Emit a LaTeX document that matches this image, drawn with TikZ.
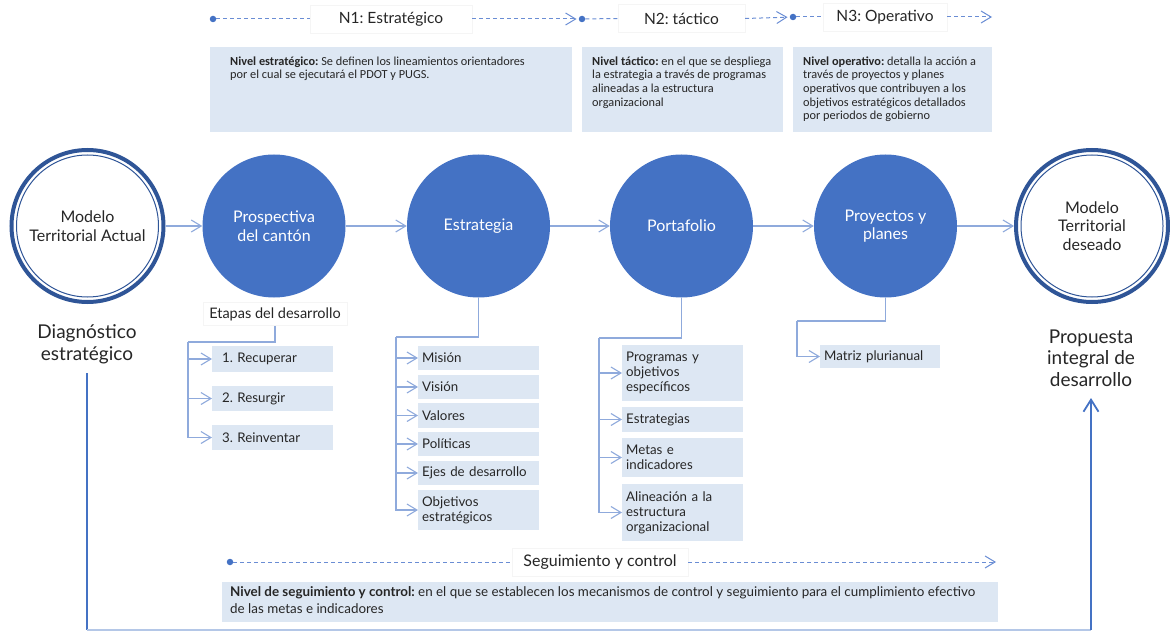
\documentclass[tikz,border=0pt]{standalone}
\usepackage{fontspec}
\setmainfont{Lato}
\newfontfamily\carl{Carlito}
\usetikzlibrary{arrows.meta}
\definecolor{cblue}{HTML}{4472C4}
\definecolor{ringblue}{HTML}{2F5597}
\definecolor{lineblue}{HTML}{8FAADC}
\definecolor{lightline}{HTML}{B4C7E7}
\definecolor{boxblue}{HTML}{DDE7F3}
\definecolor{dashblue}{HTML}{6A8DD4}
\definecolor{txt}{HTML}{262626}
\newcommand\fsz[2]{\fontsize{#1}{#2}\selectfont}
\begin{document}
\frenchspacing
\begin{tikzpicture}[x=1pt,y=-1pt,
  >={Straight Barb[length=10pt,width=12pt]},
  conn/.style={draw=lineblue, line width=1.1pt},
  dashln/.style={draw=dashblue, line width=1pt, dash pattern=on 4pt off 3pt},
  dotn/.style={circle, fill=cblue, inner sep=0pt, minimum size=6.5pt},
  lvl/.style={fill=white, draw=black!4, font=\fsz{15.5}{18}, text=txt, minimum height=28pt, inner sep=0pt},
  descbox/.style={fill=boxblue, inner sep=0pt, anchor=north west},
  desctext/.style={font=\carl\fsz{12.3}{13.6}, text=txt, align=left, anchor=north west, inner sep=0pt},
  bigc/.style={circle, fill=cblue, minimum size=143pt, inner sep=0pt, text=white, font=\fsz{16}{18.5}, align=center},
  ring/.style={circle, draw=ringblue, line width=4pt, minimum size=152pt, inner sep=0pt, font=\fsz{16}{18.5}, text=txt, align=center},
  sbox/.style={fill=boxblue, anchor=west, inner xsep=4pt, inner ysep=0pt, text width=113pt, align=left, font=\fsz{13.3}{15}, text=txt},
  sboxw/.style={sbox, inner xsep=10pt, text width=101pt},
  bigtxt/.style={font=\fsz{19}{22}, text=txt, align=center, inner sep=0pt},
  retv/.style={draw=cblue, line width=1.8pt},
  reth/.style={draw=lightline, line width=1.5pt}
]
\useasboundingbox (0,0) rectangle (1170,631);

% ---------- top level row ----------
\node[dotn] (dot1) at (213,19) {};
\node[lvl, minimum width=162pt] (n1) at (391,19) {N1: Estratégico};
\node[dotn] (dot2) at (582,19) {};
\node[lvl, minimum width=127pt] (n2) at (681.5,18.5) {N2: táctico};
\node[dotn] (dot3) at (793,17) {};
\node[lvl, minimum width=124pt] (n3) at (885,17) {N3: Operativo};
\coordinate (end3) at (992,17);
\draw[dashln] (dot1) -- (n1.west);
\draw[dashln,->,shorten >=2pt] (n1.east) -- (dot2);
\draw[dashln] (dot2) -- (n2.west);
\draw[dashln,->,shorten >=2pt] (n2.east) -- (dot3);
\draw[dashln] (dot3) -- (n3.west);
\draw[dashln,->] (n3.east) -- (end3);

% ---------- level descriptions ----------
\node[descbox, minimum width=362pt, minimum height=85pt] (d1) at (210,47) {};
\node[descbox, minimum width=201pt, minimum height=85pt] (d2) at (582,47) {};
\node[descbox, minimum width=199pt, minimum height=85pt] (d3) at (793,47) {};
\node[desctext] (t1) at (230,56.5) {\textbf{Nivel estratégico:} Se definen los lineamientos orientadores\\por el cual se ejecutará el PDOT y PUGS.};
\node[desctext] (t2) at (592,56.5) {\textbf{Nivel táctico:} en el que se despliega\\la estrategia a través de programas\\alineadas a la estructura\\organizacional};
\node[desctext] (t3) at (803,56.5) {\textbf{Nivel operativo:} detalla la acción a\\través de proyectos y planes\\operativos que contribuyen a los\\objetivos estratégicos detallados\\por periodos de gobierno};

% ---------- main circles ----------
\node[ring] (mta) at (87.5,226) {Modelo\\Territorial Actual};
\draw[ringblue, line width=1pt] (mta.center) circle[radius=71];
\node[bigc] (c1) at (274,226) {Prospectiva\\del cantón};
\node[bigc] (c2) at (478.5,226) {Estrategia};
\node[bigc] (c3) at (681.5,226) {Portafolio};
\node[bigc] (c4) at (885.5,226) {Proyectos y\\planes};
\node[ring] (mtd) at (1092,226) {Modelo\\Territorial\\deseado};
\draw[ringblue, line width=1pt] (mtd.center) circle[radius=71];

\draw[conn,->] (mta) -- (c1);
\draw[conn,->] (c1) -- (c2);
\draw[conn,->] (c2) -- (c3);
\draw[conn,->] (c3) -- (c4);
\draw[conn,->] (c4) -- (mtd);

% ---------- side labels ----------
\node[bigtxt] (diag) at (87,344) {Diagnóstico\\estratégico};
\node[bigtxt, font=\fsz{19}{21.5}] (prop) at (1091,358) {Propuesta\\integral de\\desarrollo};
\node[fill=white, draw=black!4, font=\fsz{14.5}{16}, text=txt, inner xsep=6pt, inner ysep=5pt] (etapas) at (275,314) {Etapas del desarrollo};

% ---------- Prospectiva group ----------
\node[sboxw, minimum height=26pt] (p1) at (212,359) {1. Recuperar};
\node[sboxw, minimum height=25pt] (p2) at (212,398.5) {2. Resurgir};
\node[sboxw, minimum height=25pt] (p3) at (212,437.5) {3. Reinventar};
\coordinate (e1) at (188,342);
\draw[conn] (etapas.south) |- (e1);
\foreach \b in {p1,p2,p3} \draw[conn,->] (e1) |- (\b.west);

% ---------- Estrategia group ----------
\node[sbox, minimum height=24pt] (s1) at (418,358) {Misión};
\node[sbox, minimum height=24pt] (s2) at (418,387) {Visión};
\node[sbox, minimum height=25pt] (s3) at (418,415.5) {Valores};
\node[sbox, minimum height=24pt] (s4) at (418,444) {Políticas};
\node[sbox, minimum height=24pt] (s5) at (418,473) {Ejes de desarrollo};
\node[sbox, minimum height=40pt] (s6) at (418,510) {Objetivos\\estratégicos};
\coordinate (e2) at (396,337);
\draw[conn] (c2.south) |- (e2);
\foreach \b in {s1,s2,s3,s4,s5,s6} \draw[conn,->] (e2) |- (\b.west);

% ---------- Portafolio group ----------
\node[sbox, minimum height=56pt] (q1) at (622,373) {Programas y\\objetivos\\específicos};
\node[sbox, minimum height=25pt] (q2) at (622,419.5) {Estrategias};
\node[sbox, minimum height=39pt] (q3) at (622,457.5) {Metas e\\indicadores};
\node[sbox, minimum height=57pt] (q4) at (622,512.5) {Alineación a la\\estructura\\organizacional};
\coordinate (e3) at (599,338);
\draw[conn] (c3.south) |- (e3);
\foreach \b in {q1,q2,q3,q4} \draw[conn,->] (e3) |- (\b.west);

% ---------- Proyectos group ----------
\node[sbox, minimum height=23pt, text width=112pt] (r1) at (820,356.5) {Matriz plurianual};
\coordinate (e4) at (797,321);
\draw[conn] (c4.south) |- (e4);
\draw[conn,->] (e4) |- (r1.west);

% ---------- Seguimiento y control ----------
\node[dotn] (dotS) at (230,562) {};
\node[lvl, minimum width=176pt, font=\fsz{16}{18}] (seg) at (600,562) {Seguimiento y control};
\coordinate (endS) at (996,562);
\draw[dashln] (dotS) -- (seg.west);
\draw[dashln,->] (seg.east) -- (endS);
\node[descbox, minimum width=776pt, minimum height=40pt] (d4) at (222,582) {};
\node[desctext, font=\fsz{13.4}{17}] (t4) at (230,586) {\textbf{Nivel de seguimiento y control:} en el que se establecen los mecanismos de control y seguimiento para el cumplimiento efectivo\\de las metas e indicadores};

% ---------- return path ----------
\coordinate (rl) at (87,373);
\coordinate (rb) at (87,630);
\coordinate (rr) at (1091,630);
\coordinate (ra) at (1091,398);
\draw[retv] (rl) -- (rb);
\draw[reth] (rb) -- (rr);
\draw[retv,-{Straight Barb[length=12pt,width=15pt]}] (rr) -- (ra);
\end{tikzpicture}
\end{document}
